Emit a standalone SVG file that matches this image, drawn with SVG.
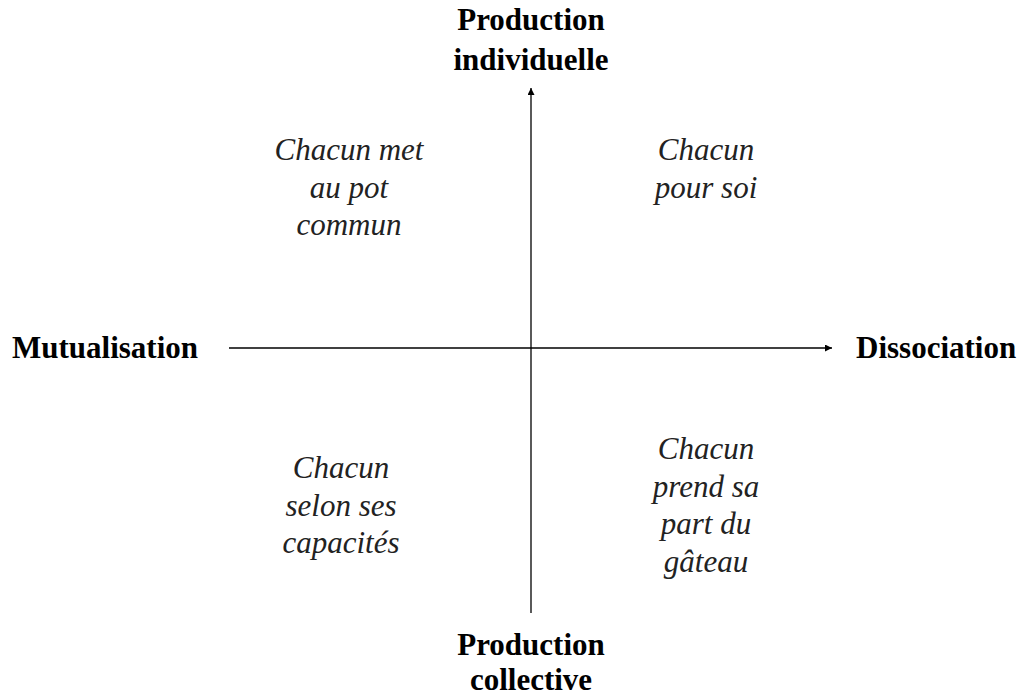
<svg xmlns="http://www.w3.org/2000/svg" width="1023" height="695" viewBox="0 0 1023 695">
<style>
.b{font-family:"Liberation Serif","Times New Roman",serif;font-weight:bold;font-size:31px;fill:#000}
.i{font-family:"Liberation Serif","Times New Roman",serif;font-style:italic;font-size:31px;fill:#222;text-anchor:middle}
.ax{stroke:#000;stroke-width:1.3;fill:none}
</style>
<defs>
<marker id="ah" viewBox="0 0 10 10" refX="10" refY="5" markerWidth="7" markerHeight="7" markerUnits="userSpaceOnUse" orient="auto">
<path d="M0,0 L10,5 L0,10 z" fill="#000"/>
</marker>
</defs>
<rect width="1023" height="695" fill="#fff"/>
<g id="connectors">
<line class="ax" x1="531" y1="613" x2="531" y2="88" marker-end="url(#ah)"/>
<line class="ax" x1="229" y1="348" x2="832" y2="348" marker-end="url(#ah)"/>
</g>
<g id="top"><text class="b" text-anchor="middle" x="531" y="30">Production</text><text class="b" text-anchor="middle" x="531" y="70">individuelle</text></g>
<g id="bottom"><text class="b" text-anchor="middle" x="531" y="655">Production</text><text class="b" text-anchor="middle" x="531" y="690">collective</text></g>
<g id="left"><text class="b" x="12" y="358">Mutualisation</text></g>
<g id="right"><text class="b" x="856" y="358">Dissociation</text></g>
<g id="q1"><text class="i" x="349" y="160">Chacun met</text><text class="i" x="349" y="198">au pot</text><text class="i" x="349" y="235">commun</text></g>
<g id="q2"><text class="i" x="706" y="160">Chacun</text><text class="i" x="706" y="198">pour soi</text></g>
<g id="q3"><text class="i" x="341" y="478">Chacun</text><text class="i" x="341" y="516">selon ses</text><text class="i" x="341" y="553">capacités</text></g>
<g id="q4"><text class="i" x="706" y="459">Chacun</text><text class="i" x="706" y="497">prend sa</text><text class="i" x="706" y="534">part du</text><text class="i" x="706" y="572">gâteau</text></g>
</svg>
